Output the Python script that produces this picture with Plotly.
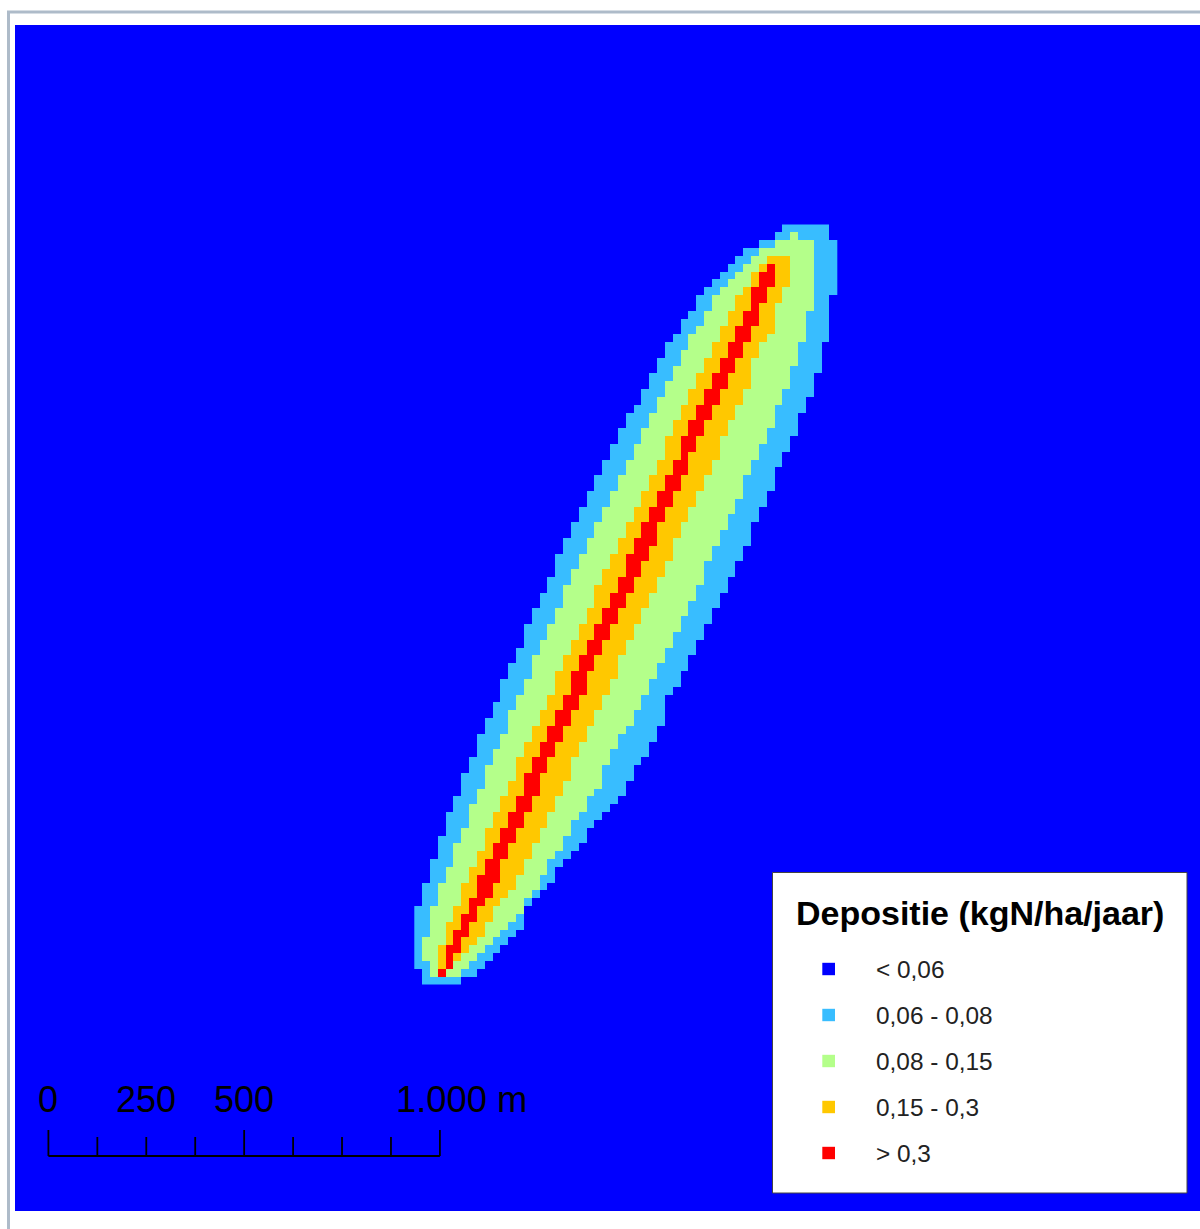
import numpy as np
import plotly.graph_objects as go

# Per-row class edges (column numbers, rows from north to south), 20 m cells
blue_l = [47,46,44,42,41,40,39,38,37,36, 36,35,34,34,33,32,32,31,31,30,
          30,29,29,28,27,27,26,26,25,25, 24,24,23,23,22,22,21,21,20,20,
          19,19,18,18,18,17,17,16,16,15, 15,14,14,14,13,13,12,12,11,11,
          11,10,10,9,9,8,8,8,7,7, 6,6,6,5,5,4,4,4,3,3,
          3,2,2,2,1,1,1,0,0,0, 0,0,0,0,0,1,1]
blue_r = [53,53,54,54,54,54,54,54,54,53, 53,53,53,53,53,52,52,52,52,51,
          51,51,50,50,49,49,49,48,48,47, 47,46,46,46,45,45,44,44,43,43,
          43,42,42,41,41,40,40,39,39,38, 38,37,37,36,36,35,35,34,34,33,
          32,32,32,32,31,31,30,30,29,28, 28,27,27,26,25,24,23,22,22,21,
          20,19,18,18,17,16,15,14,14,14, 13,12,11,10,9,8,6]
green_l = [0,48,46,44,43,42,41,40,39,38, 38,37,37,36,35,35,34,34,33,33,
           32,32,31,31,30,30,29,29,28,28, 27,27,26,26,25,25,24,24,23,23,
           22,22,21,21,20,20,19,19,19,18, 18,17,17,16,16,15,15,15,14,14,
           13,13,12,12,12,11,11,10,10,9, 9,9,8,8,7,7,7,6,6,5,
           5,5,4,4,3,3,3,2,2,2, 2,1,1,1,2,2,0]
green_r = [0,49,51,51,51,51,51,51,51,51, 51,50,50,50,50,49,49,49,48,48,
           48,47,47,46,46,46,45,45,44,44, 43,43,42,42,42,41,41,40,40,39,
           39,38,38,37,37,37,36,36,35,35, 34,34,33,33,32,32,31,31,30,30,
           29,29,28,28,27,26,26,25,25,24, 24,24,23,22,22,21,20,20,19,19,
           18,17,17,16,16,15,14,14,13,12, 11,10,9,8,7,6,0]
orange_l = [0,0,0,0,45,44,43,43,42,41, 41,40,40,39,39,38,38,37,37,36,
            36,35,35,34,34,33,33,32,32,32, 31,31,30,30,29,29,28,28,27,27,
            26,26,25,25,24,24,23,23,23,22, 22,21,21,20,20,19,19,18,18,18,
            17,17,16,16,15,15,14,14,13,13, 13,12,12,11,11,10,10,9,9,9,
            8,8,7,7,6,6,6,5,5,4, 4,4,3,3,3,0,0]
orange_r = [0,0,0,0,48,48,48,48,47,47, 46,46,46,46,45,44,44,43,43,43,
            43,42,42,41,41,40,40,39,39,39, 38,38,37,37,36,36,35,35,34,34,
            33,33,33,32,32,31,31,30,30,29, 29,28,28,27,27,26,26,26,25,25,
            24,24,23,23,22,22,21,21,20,20, 20,19,19,18,18,17,17,16,16,15,
            15,14,14,13,13,12,11,10,10,9, 9,8,7,6,5,0,0]
red_l = [0,0,0,0,0,45,44,44,43,43, 43,42,42,41,41,40,40,39,39,38,
         38,37,37,36,36,35,35,34,34,34, 33,33,32,32,31,31,30,30,29,29,
         28,28,27,27,27,26,26,25,25,24, 24,23,23,22,22,21,21,20,20,20,
         19,19,18,18,17,17,16,16,15,15, 14,14,14,13,13,12,12,11,11,10,
         10,9,9,8,8,8,7,7,6,6, 5,5,4,4,4,3,0]
red_r = [0,0,0,0,0,46,46,46,45,45, 44,44,44,43,43,42,42,41,41,40,
         40,39,39,38,38,37,37,36,36,35, 35,35,34,34,33,33,32,32,31,31,
         31,30,30,29,29,28,28,27,27,26, 26,25,25,24,24,23,23,22,22,22,
         21,21,20,20,19,19,18,18,17,17, 16,16,16,15,15,14,14,13,13,12,
         12,11,11,11,10,10,9,8,8,7, 7,6,6,5,5,4,0]

class_labels = ["< 0,06", "0,06 - 0,08", "0,08 - 0,15", "0,15 - 0,3", "> 0,3"]
class_colors = ["#0000FF", "#38BDFF", "#B4FF8A", "#FFC800", "#FF0000"]
legend_title = "Depositie (kgN/ha/jaar)"
scale_ticks = [0, 125, 250, 375, 500, 625, 750, 875, 1000]
scale_labels = ["0", "250", "500"]
scale_end_label = "1.000 m"

W, H = 1200, 1229
L, T, B = 15, 25, 1211          # plot area edges in page pixels
PX_PER_M = 0.3915
X0_PX, Y0_PX = 48.4, 1156.0     # page position of scale-bar origin
CELL = 20
N_COLS = 54


def px(x):
    return (x - L) / (W - L)


def py(y):
    return (B - y) / (B - T)


rows = len(blue_l)
z = np.zeros((rows, N_COLS), dtype=int)
for i in range(rows):
    z[i, blue_l[i]:blue_r[i]] = 1
    z[i, green_l[i]:green_r[i]] = 2
    z[i, orange_l[i]:orange_r[i]] = 3
    z[i, red_l[i]:red_r[i]] = 4

x_start = (414.3 - X0_PX) / PX_PER_M
y_start = (Y0_PX - 224.5) / PX_PER_M
xs = x_start + CELL * (np.arange(N_COLS) + 0.5)
ys = y_start - CELL * (np.arange(rows) + 0.5)

scale = [[j / 5, c] for i, c in enumerate(class_colors) for j in (i, i + 1)]

fig = go.Figure()
fig.add_trace(go.Heatmap(x=xs, y=ys, z=z, zmin=-0.5, zmax=4.5, colorscale=scale,
                         showscale=False, hoverinfo="skip", zsmooth=False))

# scale bar drawn from its tick values
bar_x, bar_y = [scale_ticks[0], scale_ticks[-1]], [0, 0]
fig.add_trace(go.Scatter(x=bar_x, y=bar_y, mode="lines", line=dict(color="#000000", width=1.8),
                         hoverinfo="skip", showlegend=False))
for t in scale_ticks:
    h = 26 if t in (0, 500, 1000) else 19
    fig.add_trace(go.Scatter(x=[t, t], y=[0, h / PX_PER_M], mode="lines",
                             line=dict(color="#000000", width=1.8),
                             hoverinfo="skip", showlegend=False))

shapes = []
# page frame
frame = "#AEBBC9"
shapes.append(dict(type="line", xref="paper", yref="paper", x0=px(8.5), x1=px(8.5), y0=py(11), y1=py(1229),
                   line=dict(color=frame, width=3)))
shapes.append(dict(type="line", xref="paper", yref="paper", x0=px(7), x1=px(1200), y0=py(12), y1=py(12),
                   line=dict(color=frame, width=3)))
# legend box
shapes.append(dict(type="rect", xref="paper", yref="paper", x0=px(772.5), x1=px(1187), y0=py(1193), y1=py(872.5),
                   fillcolor="#FFFFFF", line=dict(color="#444444", width=1)))

annotations = [dict(x=px(794), y=py(913), xref="paper", yref="paper", text="<b>%s</b>" % legend_title,
                    showarrow=False, xanchor="left", yanchor="middle",
                    font=dict(family="Liberation Sans", size=34, color="#000000"))]
for i, (lab, col) in enumerate(zip(class_labels, class_colors)):
    yc = 969 + 46 * i
    shapes.append(dict(type="rect", xref="paper", yref="paper", x0=px(822.3), x1=px(835), y0=py(yc + 6.2), y1=py(yc - 6.2),
                       fillcolor=col, line=dict(width=0)))
    annotations.append(dict(x=px(874), y=py(yc), xref="paper", yref="paper", text=lab, showarrow=False,
                            xanchor="left", yanchor="middle",
                            font=dict(family="Liberation Sans", size=24.4, color="#222222")))

for lab, v in zip(scale_labels, [0, 250, 500]):
    annotations.append(dict(x=v, y=(Y0_PX - 1099) / PX_PER_M, xref="x", yref="y", text=lab, showarrow=False,
                            xanchor="center", yanchor="middle",
                            font=dict(family="Liberation Sans", size=36, color="#000000")))
annotations.append(dict(x=px(393.5), y=py(1099), xref="paper", yref="paper", text=scale_end_label, showarrow=False,
                        xanchor="left", yanchor="middle",
                        font=dict(family="Liberation Sans", size=36.3, color="#000000")))

fig.update_layout(
    width=W, height=H, paper_bgcolor="#FFFFFF", plot_bgcolor=class_colors[0],
    margin=dict(l=L, r=0, t=T, b=H - B, pad=0), showlegend=False,
    shapes=shapes, annotations=annotations,
    xaxis=dict(range=[(L - X0_PX) / PX_PER_M, (W - X0_PX) / PX_PER_M], visible=False, fixedrange=True),
    yaxis=dict(range=[(Y0_PX - B) / PX_PER_M, (Y0_PX - T) / PX_PER_M], visible=False, fixedrange=True),
)
fig.write_html("out.html", config=dict(displayModeBar=False),
               post_script="document.body.style.margin='0';document.body.style.overflow='hidden';")
